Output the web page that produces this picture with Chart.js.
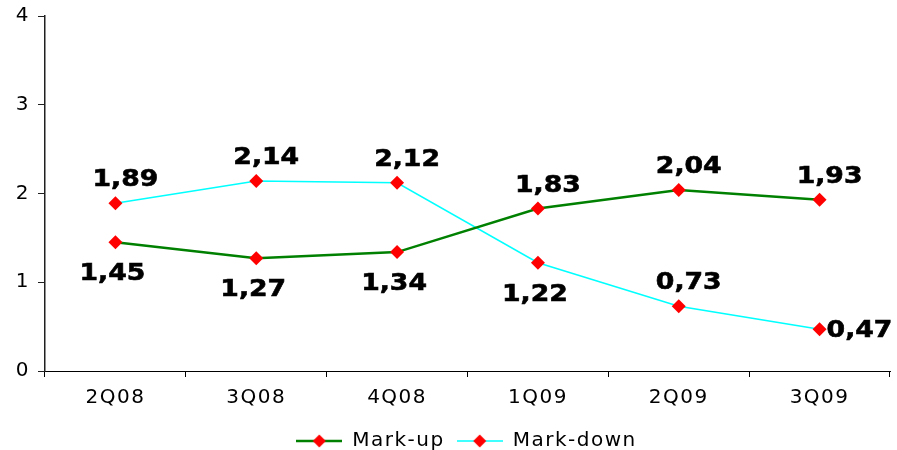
<!DOCTYPE html>
<html><head><meta charset="utf-8">
<script src="https://cdn.jsdelivr.net/npm/chart.js@4.4.0/dist/chart.umd.min.js"></script>
<style>html,body{margin:0;padding:0;background:#fff}#wrap{width:897px;height:450px}</style>
</head><body><div id="wrap"><canvas id="c" width="897" height="450"></canvas></div>
<script>
const categories = ['2Q08','3Q08','4Q08','1Q09','2Q09','3Q09'];
const markUp = [1.45, 1.27, 1.34, 1.83, 2.04, 1.93];
const markDown = [1.89, 2.14, 2.12, 1.22, 0.73, 0.47];
const yTicks = [0, 1, 2, 3, 4];
const markUpLabelSide = ['below','below','below','above','above','above'];
const markDownLabelSide = ['above','above','above','below','above','right'];

function legendIcon(color, width) {
  const c = document.createElement('canvas');
  c.width = 46; c.height = 16;
  const x = c.getContext('2d');
  x.strokeStyle = color; x.lineWidth = width;
  x.beginPath(); x.moveTo(0, 8); x.lineTo(46, 8); x.stroke();
  x.fillStyle = '#ff0000';
  x.beginPath(); x.moveTo(23, 1.5); x.lineTo(29.5, 8); x.lineTo(23, 14.5); x.lineTo(16.5, 8); x.closePath(); x.fill();
  return c;
}
const iconUp = legendIcon('#008000', 2.5);
const iconDown = legendIcon('#00ffff', 1.5);

const SP = '1.5px';
const spacingPlugin = {
  id: 'spacing',
  beforeUpdate(chart) { chart.ctx.letterSpacing = SP; },
  beforeLayout(chart) { chart.ctx.letterSpacing = SP; },
  afterLayout(chart) { if (chart.legend) { chart.legend.left += 21; chart.legend.right += 21; } },
  beforeDraw(chart) { chart.ctx.letterSpacing = SP; }
};

const labelPlugin = {
  id: 'valueLabels',
  afterDatasetsDraw(chart) {
    const ctx = chart.ctx;
    const sides = [markUpLabelSide, markDownLabelSide];
    chart.data.datasets.forEach((ds, di) => {
      const meta = chart.getDatasetMeta(di);
      meta.data.forEach((pt, i) => {
        const txt = ds.data[i].toFixed(2).replace('.', ',');
        const side = sides[di][i];
        let x, y, align;
        if (side === 'right') { x = pt.x + 7; y = pt.y + 2; align = 'left'; }
        else if (side === 'above') { x = pt.x + 10; y = pt.y - 23; align = 'center'; }
        else { x = pt.x - 3; y = pt.y + 32; align = 'center'; }
        ctx.save();
        ctx.letterSpacing = '0px';
        ctx.translate(x, y);
        ctx.scale(1.16, 1);
        ctx.font = 'bold 23px "DejaVu Sans"';
        ctx.fillStyle = '#000';
        ctx.strokeStyle = '#000';
        ctx.lineWidth = 0.6;
        ctx.textBaseline = 'middle';
        ctx.textAlign = align;
        ctx.fillText(txt, 0, 0);
        ctx.strokeText(txt, 0, 0);
        ctx.restore();
      });
    });
  }
};

new Chart(document.getElementById('c'), {
  type: 'line',
  data: {
    labels: categories,
    datasets: [
      { label: 'Mark-up', data: markUp, borderColor: '#008000', borderWidth: 2.5,
        pointStyle: 'rectRot', pointRadius: 7, pointBackgroundColor: '#ff0000', pointBorderColor: '#ff0000', pointBorderWidth: 0, tension: 0 },
      { label: 'Mark-down', data: markDown, borderColor: '#00ffff', borderWidth: 1.5,
        pointStyle: 'rectRot', pointRadius: 7, pointBackgroundColor: '#ff0000', pointBorderColor: '#ff0000', pointBorderWidth: 0, tension: 0 }
    ]
  },
  options: {
    responsive: false,
    animation: false,
    devicePixelRatio: 1,
    layout: { padding: { top: 16, right: 6, left: 0, bottom: -11 } },
    plugins: {
      tooltip: { enabled: false },
      legend: {
        position: 'bottom',
        labels: {
          usePointStyle: true,
          pointStyleWidth: 46,
          padding: 12,
          color: '#000',
          font: { family: '"DejaVu Sans"', size: 20 },
          generateLabels(chart) {
            return chart.data.datasets.map((ds, i) => ({
              text: ds.label, pointStyle: i === 0 ? iconUp : iconDown,
              fillStyle: '#ff0000', strokeStyle: ds.borderColor, lineWidth: 0,
              hidden: false, datasetIndex: i, fontColor: '#000'
            }));
          }
        }
      }
    },
    scales: {
      x: {
        offset: true,
        grid: { display: true, drawOnChartArea: false, offset: true, tickLength: 6, color: '#000' },
        border: { display: true, color: '#000', width: 1 },
        ticks: { color: '#000', font: { family: '"DejaVu Sans"', size: 20 }, padding: 9, maxRotation: 0 }
      },
      y: {
        min: 0, max: 4,
        afterFit(s) { s.width = 45; s.paddingTop = 0; s.paddingBottom = 0; },
        afterBuildTicks(s) { s.ticks = yTicks.map(v => ({ value: v })); },
        grid: { display: true, drawOnChartArea: false, tickLength: 7, color: '#202020' },
        border: { display: true, color: '#202020', width: 1.5 },
        ticks: { color: '#000', font: { family: '"DejaVu Sans"', size: 20 }, padding: 8 }
      }
    }
  },
  plugins: [spacingPlugin, labelPlugin]
});
</script></body></html>
